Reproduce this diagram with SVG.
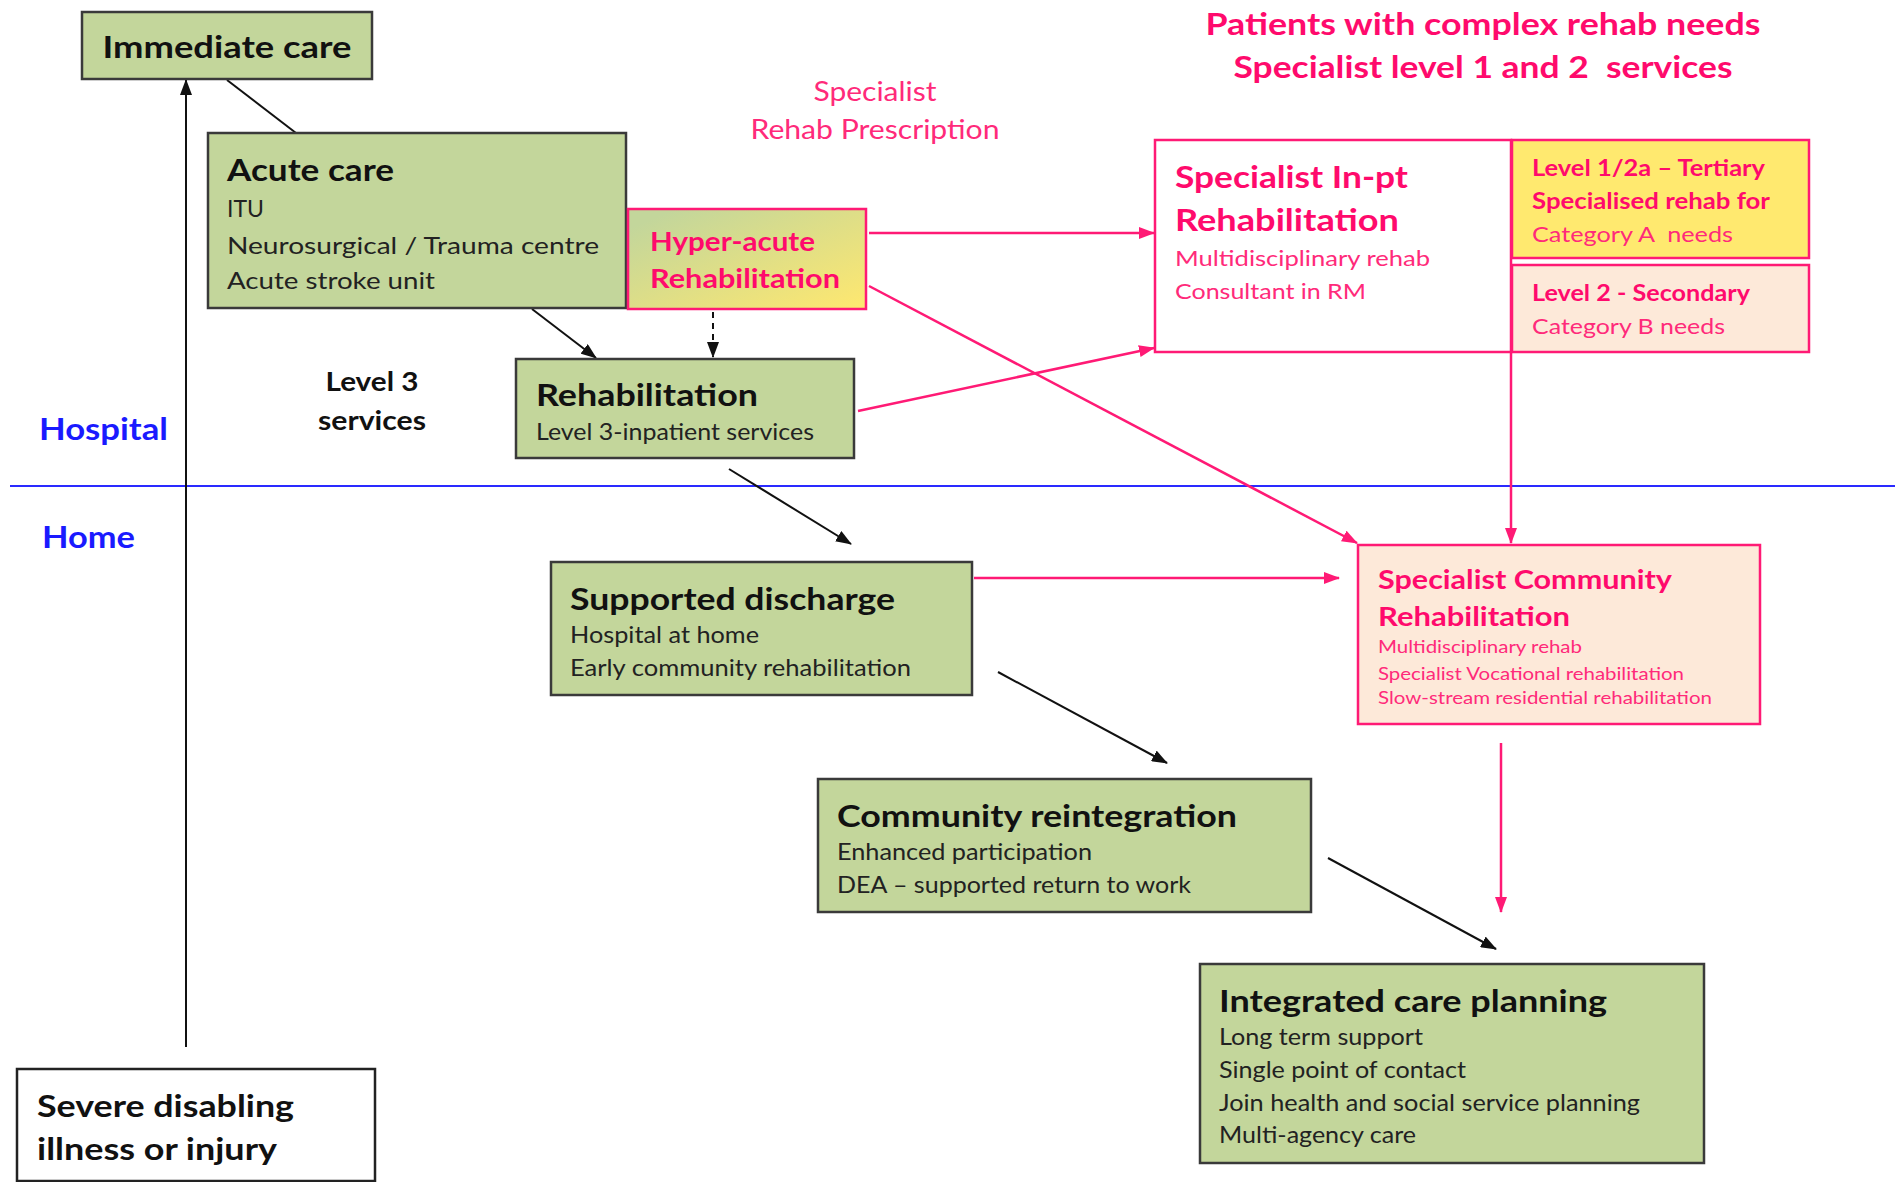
<svg xmlns="http://www.w3.org/2000/svg" width="1895" height="1182" viewBox="0 0 1895 1182">
<defs>
<style>
text{font-family:Lato,"Open Sans","Liberation Sans",sans-serif;}
.g{fill:#c3d69b;stroke:#3a3a3a;stroke-width:2.5;}
.pk{stroke:#ff1a75;stroke-width:2.5;}
.t{font-weight:bold;font-size:30px;fill:#111;}
.s{font-size:23px;fill:#222;}
.pt{font-weight:bold;fill:#ff0a6c;}
.ps{fill:#ff2a7a;}
.bl{font-weight:bold;font-size:30px;fill:#1a1aff;}
.cb{stroke:#111;stroke-width:2;fill:none;}
.cp{stroke:#ff1a75;stroke-width:2.5;fill:none;}
</style>
<marker id="ab" markerWidth="16" markerHeight="12" refX="15" refY="6" orient="auto" markerUnits="userSpaceOnUse"><path d="M0,0 L16,6 L0,12 Z" fill="#111"/></marker>
<marker id="ap" markerWidth="16" markerHeight="12" refX="15" refY="6" orient="auto" markerUnits="userSpaceOnUse"><path d="M0,0 L16,6 L0,12 Z" fill="#ff1a75"/></marker>
<linearGradient id="hg" x1="0" y1="0" x2="1" y2="1"><stop offset="0.1" stop-color="#c3d69b"/><stop offset="1" stop-color="#ffe86f"/></linearGradient>
</defs>

<line x1="10" y1="486" x2="1895" y2="486" stroke="#2a2aff" stroke-width="2"/>
<text class="bl" x="39" y="440" textLength="129" lengthAdjust="spacingAndGlyphs">Hospital</text>
<text class="bl" x="42" y="548" textLength="93" lengthAdjust="spacingAndGlyphs">Home</text>
<text class="t" style="font-size:27px" x="372" y="391" text-anchor="middle" textLength="93" lengthAdjust="spacingAndGlyphs">Level 3</text>
<text class="t" style="font-size:27px" x="372" y="430" text-anchor="middle" textLength="108" lengthAdjust="spacingAndGlyphs">services</text>
<text class="ps" style="font-size:26px" x="875" y="101" text-anchor="middle" textLength="123" lengthAdjust="spacingAndGlyphs">Specialist</text>
<text class="ps" style="font-size:26px" x="875" y="139" text-anchor="middle" textLength="249" lengthAdjust="spacingAndGlyphs">Rehab Prescription</text>
<text class="pt" style="font-size:30px" x="1483" y="35" text-anchor="middle" textLength="555" lengthAdjust="spacingAndGlyphs">Patients with complex rehab needs</text>
<text class="pt" style="font-size:30px" x="1483" y="78" text-anchor="middle" textLength="499" lengthAdjust="spacingAndGlyphs" xml:space="preserve">Specialist level 1 and 2  services</text>

<g id="connectors">
<line class="cb" x1="186" y1="1047" x2="186" y2="80" marker-end="url(#ab)"/>
<line class="cb" x1="227" y1="80" x2="296" y2="133"/>
<line class="cb" x1="532" y1="309" x2="596" y2="358" marker-end="url(#ab)"/>
<line class="cb" x1="713" y1="312" x2="713" y2="357" stroke-dasharray="6,5" marker-end="url(#ab)"/>
<line class="cb" x1="729" y1="469" x2="851" y2="544" marker-end="url(#ab)"/>
<line class="cb" x1="998" y1="672" x2="1167" y2="763" marker-end="url(#ab)"/>
<line class="cb" x1="1328" y1="858" x2="1496" y2="949" marker-end="url(#ab)"/>
<line class="cp" x1="869" y1="233" x2="1154" y2="233" marker-end="url(#ap)"/>
<line class="cp" x1="869" y1="286" x2="1357" y2="543" marker-end="url(#ap)"/>
<line class="cp" x1="858" y1="411" x2="1154" y2="348" marker-end="url(#ap)"/>
<line class="cp" x1="1511" y1="352" x2="1511" y2="543" marker-end="url(#ap)"/>
<line class="cp" x1="974" y1="578" x2="1339" y2="578" marker-end="url(#ap)"/>
<line class="cp" x1="1501" y1="743" x2="1501" y2="912" marker-end="url(#ap)"/>
</g>

<g id="immediate">
<rect class="g" x="82" y="12" width="290" height="67"/>
<text class="t" x="227" y="58" text-anchor="middle" textLength="249" lengthAdjust="spacingAndGlyphs">Immediate care</text>
</g>

<g id="acute">
<rect class="g" x="208" y="133" width="418" height="175"/>
<text class="t" x="227" y="181" textLength="167" lengthAdjust="spacingAndGlyphs">Acute care</text>
<text class="s" x="227" y="217">ITU</text>
<text class="s" x="227" y="254" textLength="372" lengthAdjust="spacingAndGlyphs">Neurosurgical / Trauma centre</text>
<text class="s" x="227" y="289" textLength="208" lengthAdjust="spacingAndGlyphs">Acute stroke unit</text>
</g>

<g id="hyperacute">
<rect x="628" y="209" width="238" height="100" fill="url(#hg)" class="pk"/>
<text class="pt" style="font-size:27px" x="650" y="251" textLength="165" lengthAdjust="spacingAndGlyphs">Hyper-acute</text>
<text class="pt" style="font-size:27px" x="650" y="288" textLength="190" lengthAdjust="spacingAndGlyphs">Rehabilitation</text>
</g>

<g id="rehab">
<rect class="g" x="516" y="359" width="338" height="99"/>
<text class="t" x="536" y="406" textLength="222" lengthAdjust="spacingAndGlyphs">Rehabilitation</text>
<text class="s" x="536" y="440" textLength="278" lengthAdjust="spacingAndGlyphs">Level 3-inpatient services</text>
</g>

<g id="supported">
<rect class="g" x="551" y="562" width="421" height="133"/>
<text class="t" x="570" y="610" textLength="325" lengthAdjust="spacingAndGlyphs">Supported discharge</text>
<text class="s" x="570" y="643" textLength="189" lengthAdjust="spacingAndGlyphs">Hospital at home</text>
<text class="s" x="570" y="676" textLength="341" lengthAdjust="spacingAndGlyphs">Early community rehabilitation</text>
</g>

<g id="community">
<rect class="g" x="818" y="779" width="493" height="133"/>
<text class="t" x="837" y="827" textLength="400" lengthAdjust="spacingAndGlyphs">Community reintegration</text>
<text class="s" x="837" y="860" textLength="255" lengthAdjust="spacingAndGlyphs">Enhanced participation</text>
<text class="s" x="837" y="893" textLength="354" lengthAdjust="spacingAndGlyphs">DEA – supported return to work</text>
</g>

<g id="integrated">
<rect class="g" x="1200" y="964" width="504" height="199"/>
<text class="t" x="1219" y="1012" textLength="388" lengthAdjust="spacingAndGlyphs">Integrated care planning</text>
<text class="s" x="1219" y="1045" textLength="204" lengthAdjust="spacingAndGlyphs">Long term support</text>
<text class="s" x="1219" y="1078" textLength="247" lengthAdjust="spacingAndGlyphs">Single point of contact</text>
<text class="s" x="1219" y="1111" textLength="421" lengthAdjust="spacingAndGlyphs">Join health and social service planning</text>
<text class="s" x="1219" y="1143" textLength="197" lengthAdjust="spacingAndGlyphs">Multi-agency care</text>
</g>

<g id="severe">
<rect x="17" y="1069" width="358" height="112" fill="#fff" stroke="#222" stroke-width="2.5"/>
<text class="t" x="37" y="1117" textLength="257" lengthAdjust="spacingAndGlyphs">Severe disabling</text>
<text class="t" x="37" y="1160" textLength="240" lengthAdjust="spacingAndGlyphs">illness or injury</text>
</g>

<g id="specialist-inpt">
<rect x="1155" y="140" width="356" height="212" fill="#fff" class="pk"/>
<text class="pt" style="font-size:30px" x="1175" y="188" textLength="233" lengthAdjust="spacingAndGlyphs">Specialist In-pt</text>
<text class="pt" style="font-size:30px" x="1175" y="231" textLength="224" lengthAdjust="spacingAndGlyphs">Rehabilitation</text>
<text class="ps" style="font-size:22px" x="1175" y="266" textLength="255" lengthAdjust="spacingAndGlyphs">Multidisciplinary rehab</text>
<text class="ps" style="font-size:22px" x="1175" y="299" textLength="191" lengthAdjust="spacingAndGlyphs">Consultant in RM</text>
</g>

<g id="level1">
<rect x="1512" y="140" width="297" height="118" fill="#ffe96f" class="pk"/>
<text class="pt" style="font-size:22px" x="1532" y="176" textLength="233" lengthAdjust="spacingAndGlyphs">Level 1/2a – Tertiary</text>
<text class="pt" style="font-size:22px" x="1532" y="209" textLength="238" lengthAdjust="spacingAndGlyphs">Specialised rehab for</text>
<text class="ps" style="font-size:22px" x="1532" y="242" textLength="201" lengthAdjust="spacingAndGlyphs" xml:space="preserve">Category A  needs</text>
</g>

<g id="level2">
<rect x="1512" y="265" width="297" height="87" fill="#fde9d9" class="pk"/>
<text class="pt" style="font-size:22px" x="1532" y="301" textLength="218" lengthAdjust="spacingAndGlyphs">Level 2 - Secondary</text>
<text class="ps" style="font-size:22px" x="1532" y="334" textLength="193" lengthAdjust="spacingAndGlyphs">Category B needs</text>
</g>

<g id="specialist-community">
<rect x="1358" y="545" width="402" height="179" fill="#fde9d9" class="pk"/>
<text class="pt" style="font-size:27px" x="1378" y="589" textLength="294" lengthAdjust="spacingAndGlyphs">Specialist Community</text>
<text class="pt" style="font-size:27px" x="1378" y="626" textLength="192" lengthAdjust="spacingAndGlyphs">Rehabilitation</text>
<text class="ps" style="font-size:18px" x="1378" y="653" textLength="204" lengthAdjust="spacingAndGlyphs">Multidisciplinary rehab</text>
<text class="ps" style="font-size:18px" x="1378" y="680" textLength="306" lengthAdjust="spacingAndGlyphs">Specialist Vocational rehabilitation</text>
<text class="ps" style="font-size:18px" x="1378" y="704" textLength="334" lengthAdjust="spacingAndGlyphs">Slow-stream residential rehabilitation</text>
</g>
</svg>
